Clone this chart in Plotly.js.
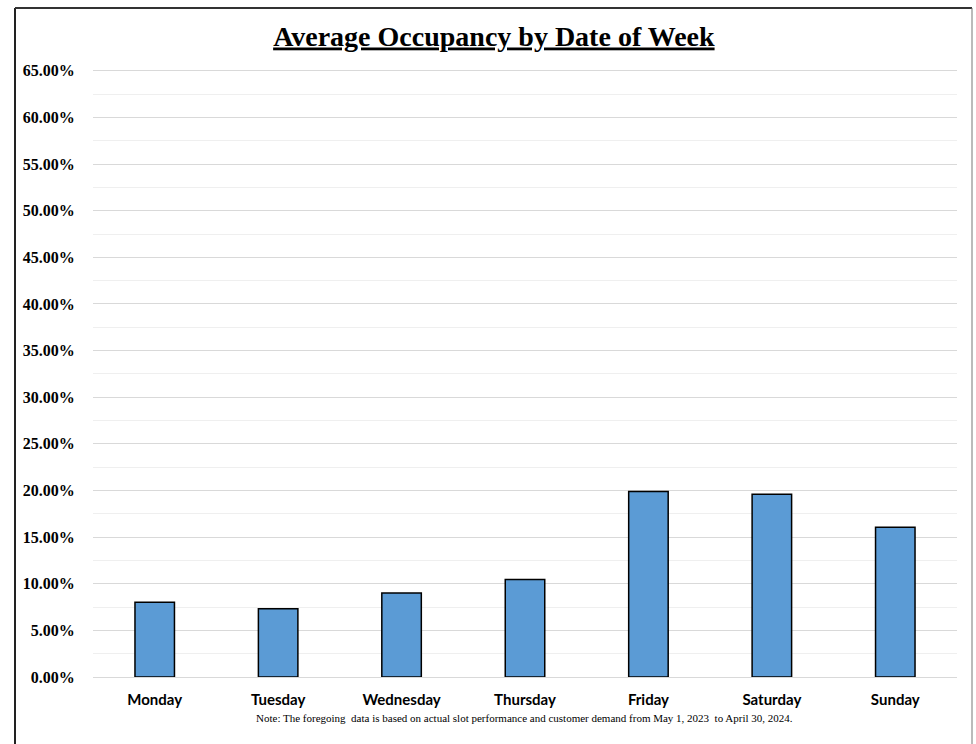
<!DOCTYPE html>
<html>
<head>
<meta charset="utf-8">
<script src="https://cdn.plot.ly/plotly-3.0.1.min.js"></script>
<style>
html,body{margin:0;padding:0;background:#fff;}
#chart{width:976px;height:744px;}
</style>
</head>
<body>
<div id="chart"></div>
<script>
const days = ["Monday","Tuesday","Wednesday","Thursday","Friday","Saturday","Sunday"];
const occupancy = [0.0802, 0.0731, 0.0900, 0.1046, 0.1989, 0.1960, 0.1605];
const chartTitle = "Average Occupancy by Date of Week";
const noteText = "Note: The foregoing  data is based on actual slot performance and customer demand from May 1, 2023  to April 30, 2024.";

const trace = {
  type: "bar",
  x: days,
  y: occupancy,
  marker: {color: "#5b9bd5", line: {color: "#000000", width: 1.5}},
  hoverinfo: "x+y"
};

const PH = 608;
const layout = {
  width: 976, height: 744,
  paper_bgcolor: "#ffffff", plot_bgcolor: "#ffffff",
  margin: {l: 93, r: 19, t: 69, b: 67},
  showlegend: false,
  bargap: 0.68,
  title: {
    text: "<b><u>" + chartTitle + "</u></b>",
    font: {family: "Liberation Serif, Times New Roman, serif", size: 28, color: "#000"},
    x: 0.506, xanchor: "center", y: 0.952, yanchor: "middle", yref: "container"
  },
  xaxis: {
    type: "category",
    showgrid: false, zeroline: false, showline: false,
    ticks: "outside", ticklen: 9, tickcolor: "rgba(0,0,0,0)",
    tickfont: {family: "Lato, Carlito, sans-serif", size: 15, color: "#000", weight: "bold"}
  },
  yaxis: {
    range: [0, 0.652], dtick: 0.05, tick0: 0,
    tickformat: ".2%",
    showgrid: true, gridcolor: "#d9d9d9", gridwidth: 1,
    zeroline: true, zerolinecolor: "#d9d9d9", zerolinewidth: 1,
    showline: false,
    ticks: "outside", ticklen: 14, tickcolor: "rgba(0,0,0,0)",
    tickfont: {family: "Liberation Serif, Times New Roman, serif", size: 16, color: "#000", weight: "bold"},
    minor: {dtick: 0.025, tick0: 0, showgrid: true, gridcolor: "#efefef", gridwidth: 1}
  },
  annotations: [{
    text: noteText,
    xref: "paper", yref: "paper",
    x: (524 - 93) / 864, y: (677 - 718) / PH,
    xanchor: "center", yanchor: "middle", showarrow: false,
    font: {family: "Liberation Serif, Times New Roman, serif", size: 11, color: "#000"}
  }],
  shapes: [
    {type: "line", xref: "paper", yref: "paper", x0: (15 - 93) / 864, x1: (15 - 93) / 864, y0: (677 - 8) / PH, y1: -0.2, line: {color: "#222", width: 2}},
    {type: "line", xref: "paper", yref: "paper", x0: (15 - 93) / 864, x1: (972 - 93) / 864, y0: (677 - 8) / PH, y1: (677 - 8) / PH, line: {color: "#333", width: 2}},
    {type: "line", xref: "paper", yref: "paper", x0: (972 - 93) / 864, x1: (972 - 93) / 864, y0: (677 - 8) / PH, y1: -0.2, line: {color: "#777", width: 1}}
  ]
};

Plotly.newPlot("chart", [trace], layout, {displayModeBar: false, staticPlot: true});
</script>
</body>
</html>
